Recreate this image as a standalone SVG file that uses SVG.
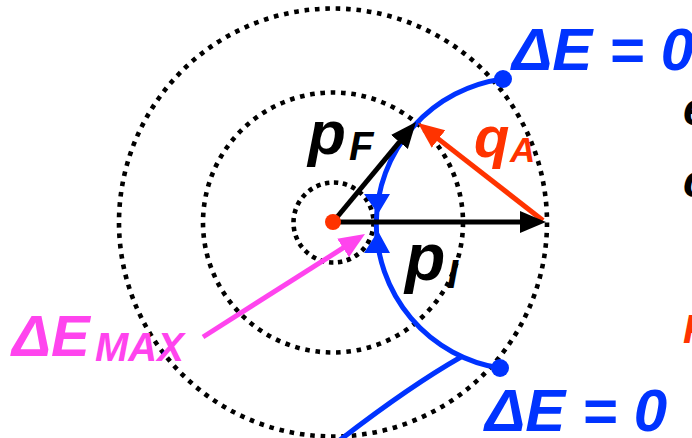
<svg xmlns="http://www.w3.org/2000/svg" width="692" height="438" viewBox="0 0 692 438">
<style>
text{font-family:"Liberation Sans",Arial,sans-serif;font-weight:bold;font-style:italic}
.dot{fill:none;stroke:#000;stroke-width:4.6}
.blk{stroke:#000;stroke-width:5;fill:none}
.red{stroke:#ff3300;stroke-width:5;fill:none}
.mag{stroke:#ff44ee;stroke-width:5;fill:none}
.blue{stroke:#0033ff;stroke-width:5;fill:none}
.bluef{fill:#0033ff}
</style>
<defs>
<marker id="hb" markerUnits="userSpaceOnUse" markerWidth="28" markerHeight="24" refX="8" refY="11" orient="auto"><path d="M0,0 L26,11 L0,22 z" fill="#000"/></marker>
<marker id="hr" markerUnits="userSpaceOnUse" markerWidth="28" markerHeight="24" refX="8" refY="11" orient="auto"><path d="M0,0 L26,11 L0,22 z" fill="#ff3300"/></marker>
<marker id="hm" markerUnits="userSpaceOnUse" markerWidth="28" markerHeight="24" refX="8" refY="11" orient="auto"><path d="M0,0 L26,11 L0,22 z" fill="#ff44ee"/></marker>
</defs>
<g id="circles">
<circle class="dot" cx="333" cy="222.5" r="214" stroke-dasharray="4.6 5.82"/>
<circle class="dot" cx="333" cy="222.5" r="130" stroke-dasharray="4.6 5.74"/>
<circle class="dot" cx="333.5" cy="222.5" r="40" stroke-dasharray="4.4 4.58"/>
</g>
<g id="connectors">
<path class="blue" d="M503,79 A146,146 0 0 0 500,368"/>
<path class="blue" d="M461,357 Q410,386 340,440"/>
<path class="bluef" d="M364,194 L390,194 L378,214 z M364,253 L390,253 L378,231 z"/>
<line class="mag" x1="203" y1="337" x2="349.8" y2="243.7" marker-end="url(#hm)"/>
<line class="red" x1="543" y1="220.5" x2="432.2" y2="134.1" marker-end="url(#hr)"/>
<line class="blk" x1="333" y1="222" x2="528" y2="222" marker-end="url(#hb)"/>
<line class="blk" x1="333" y1="222" x2="404.5" y2="135.8" marker-end="url(#hb)"/>
</g>
<g id="center"><circle cx="333" cy="222" r="8" fill="#ff3300"/></g>
<g id="dot-top"><circle class="bluef" cx="503" cy="79" r="9"/></g>
<g id="dot-bottom"><circle class="bluef" cx="500" cy="368" r="9"/></g>
<g id="label-pF"><text x="308" y="154" font-size="62">p<tspan x="349" y="160" font-size="40">F</tspan></text></g>
<g id="label-qA" fill="#ff3300"><text x="474" y="157" font-size="58">q<tspan x="510" y="162" font-size="35">A</tspan></text></g>
<g id="label-pI"><text x="405" y="280" font-size="66">p<tspan x="447" y="288" font-size="40">I</tspan></text></g>
<g id="label-dE-top" fill="#0033ff"><text x="512" y="70" font-size="60">ΔE = 0</text></g>
<g id="label-dE-bottom" fill="#0033ff"><text x="485" y="431" font-size="60">ΔE = 0</text></g>
<g id="label-dEmax" fill="#ff44ee"><text x="12" y="356" font-size="58">ΔE<tspan x="95" y="361" font-size="40">MAX</tspan></text></g>
<g id="edge-text">
<text x="683" y="125" font-size="46">e</text>
<text x="683" y="197" font-size="46">c</text>
<text x="683" y="343" font-size="40" fill="#ff3300">P</text>
</g>
</svg>
